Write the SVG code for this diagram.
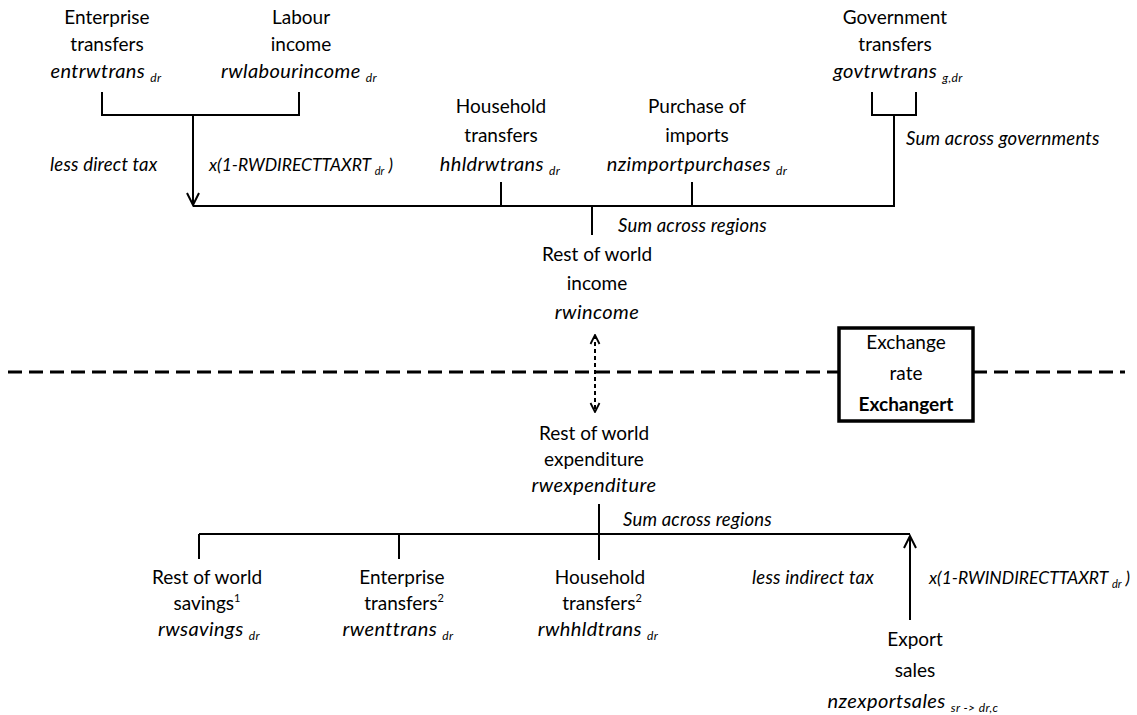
<svg xmlns="http://www.w3.org/2000/svg" width="1137" height="715" viewBox="0 0 1137 715">
<style>
text{font-family:Lato,"Liberation Sans",sans-serif;font-size:19px;fill:#000}
.c{text-anchor:middle}
.i{font-style:italic;font-size:20px;letter-spacing:0.4px}
.l{font-style:italic;font-size:18.5px;letter-spacing:0.2px}
.f{font-style:italic;font-size:17.5px}
.b{font-weight:bold}
.ln{fill:none;stroke:#000;stroke-width:2}
.dash{fill:none;stroke:#000;stroke-width:3;stroke-dasharray:14 7}
</style>
<defs>
<marker id="arr" viewBox="-1 -8 15 16" markerWidth="15" markerHeight="16" refX="12" refY="0" orient="auto" markerUnits="userSpaceOnUse">
<path d="M0,-6 L12,0 L0,6" fill="none" stroke="#000" stroke-width="2"/>
</marker>
<marker id="sarr" viewBox="-1 -6 11 12" markerWidth="11" markerHeight="12" refX="9" refY="0" orient="auto-start-reverse" markerUnits="userSpaceOnUse">
<path d="M0,-4.5 L9,0 L0,4.5" fill="none" stroke="#000" stroke-width="1.8"/>
</marker>
</defs>

<g id="connectors">
<path class="ln" d="M102,92 V115 H299 V92"/>
<path class="ln" d="M193,115 V205" marker-end="url(#arr)"/>
<path class="ln" d="M193,206 H894 V115"/>
<path class="ln" d="M872,92 V115 H916 V92"/>
<path class="ln" d="M501,182 V206"/>
<path class="ln" d="M692,182 V206"/>
<path class="ln" d="M592,206 V235"/>
<path fill="none" stroke="#000" stroke-width="2" stroke-dasharray="4 3" d="M595,335 V412" marker-start="url(#sarr)" marker-end="url(#sarr)"/>
<path class="ln" d="M599,504 V560"/>
<path class="ln" d="M199,534 H910"/>
<path class="ln" d="M199,534 V559"/>
<path class="ln" d="M399,534 V559"/>
<path class="ln" d="M910,620 V536" marker-end="url(#arr)"/>
</g>

<g id="divider">
<path class="dash" d="M8,372 H838"/>
<path class="dash" d="M973,372 H1125"/>
</g>

<g id="node-enterprise-transfers">
<text class="c" x="107" y="24">Enterprise</text>
<text class="c" x="107" y="51">transfers</text>
<text class="c i" x="106" y="78">entrwtrans <tspan font-size="12" dy="4">dr</tspan></text>
</g>
<g id="node-labour-income">
<text class="c" x="301" y="24">Labour</text>
<text class="c" x="301" y="51">income</text>
<text class="c i" x="299" y="78">rwlabourincome <tspan font-size="12" dy="4">dr</tspan></text>
</g>
<g id="node-government-transfers">
<text class="c" x="895" y="24">Government</text>
<text class="c" x="895" y="51">transfers</text>
<text class="c i" x="898" y="78">govtrwtrans <tspan font-size="12" dy="4">g,dr</tspan></text>
</g>
<g id="node-household-transfers">
<text class="c" x="501" y="113">Household</text>
<text class="c" x="501" y="142">transfers</text>
<text class="c i" x="500" y="171">hhldrwtrans <tspan font-size="12" dy="4">dr</tspan></text>
</g>
<g id="node-purchase-imports">
<text class="c" x="697" y="113">Purchase of</text>
<text class="c" x="697" y="142">imports</text>
<text class="c i" x="697" y="171">nzimportpurchases <tspan font-size="12" dy="4">dr</tspan></text>
</g>
<g id="labels-top">
<text class="l" x="50" y="171">less direct tax</text>
<text class="f" x="209" y="171">x(1-RWDIRECTTAXRT <tspan font-size="11" dy="4">dr</tspan><tspan dy="-4"> )</tspan></text>
<text class="l" x="906" y="145">Sum across governments</text>
<text class="l" x="618" y="232">Sum across regions</text>
</g>
<g id="node-rw-income">
<text class="c" x="597" y="261">Rest of world</text>
<text class="c" x="597" y="290">income</text>
<text class="c i" x="597" y="319">rwincome</text>
</g>
<g id="node-exchange-rate">
<rect x="839" y="328" width="134" height="93" fill="#fff" stroke="#000" stroke-width="3.5"/>
<text class="c" x="906" y="349">Exchange</text>
<text class="c" x="906" y="380">rate</text>
<text class="c b" x="906" y="411">Exchangert</text>
</g>
<g id="node-rw-expenditure">
<text class="c" x="594" y="440">Rest of world</text>
<text class="c" x="594" y="466">expenditure</text>
<text class="c i" x="594" y="492">rwexpenditure</text>
</g>
<g id="labels-bottom">
<text class="l" x="623" y="526">Sum across regions</text>
<text class="l" x="752" y="584">less indirect tax</text>
<text class="f" x="929" y="584">x(1-RWINDIRECTTAXRT <tspan font-size="11" dy="4">dr</tspan><tspan dy="-4"> )</tspan></text>
</g>
<g id="node-rw-savings">
<text class="c" x="207" y="584">Rest of world</text>
<text class="c" x="207" y="610">savings<tspan font-size="11" dy="-8">1</tspan></text>
<text class="c i" x="209" y="636">rwsavings <tspan font-size="12" dy="4">dr</tspan></text>
</g>
<g id="node-rw-enterprise-transfers">
<text class="c" x="402" y="584">Enterprise</text>
<text class="c" x="404" y="610">transfers<tspan font-size="11" dy="-8">2</tspan></text>
<text class="c i" x="398" y="636">rwenttrans <tspan font-size="12" dy="4">dr</tspan></text>
</g>
<g id="node-rw-household-transfers">
<text class="c" x="600" y="584">Household</text>
<text class="c" x="602" y="610">transfers<tspan font-size="11" dy="-8">2</tspan></text>
<text class="c i" x="598" y="636">rwhhldtrans <tspan font-size="12" dy="4">dr</tspan></text>
</g>
<g id="node-export-sales">
<text class="c" x="915" y="646">Export</text>
<text class="c" x="915" y="677">sales</text>
<text class="c i" x="913" y="708">nzexportsales <tspan font-size="12" dy="4">sr -&gt; dr,c</tspan></text>
</g>
</svg>
